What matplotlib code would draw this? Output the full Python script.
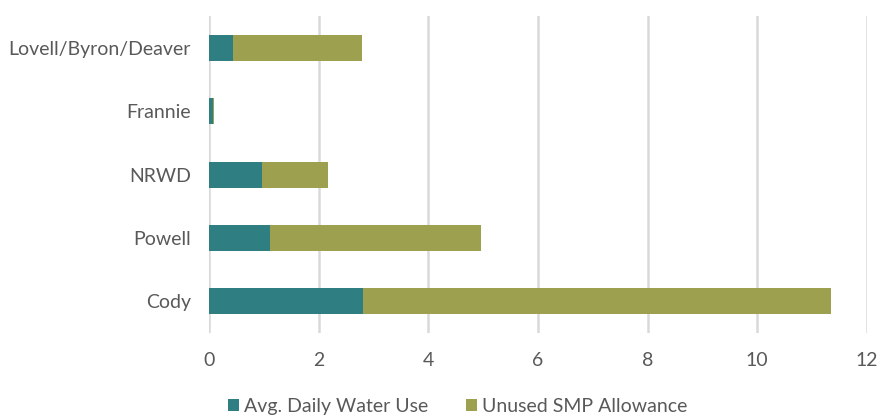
import matplotlib.pyplot as plt

sites = ["Lovell/Byron/Deaver", "Frannie", "NRWD", "Powell", "Cody"]
avg_use = [0.43, 0.07, 0.97, 1.12, 2.81]
unused = [2.37, 0.03, 1.20, 3.85, 8.54]
x_ticks = [0, 2, 4, 6, 8, 10, 12]

TEAL = "#2E7E82"
OLIVE = "#9CA04F"
TEXT = "#595959"

plt.rcParams["font.family"] = ["Lato", "DejaVu Sans"]

fig = plt.figure(figsize=(8.8, 4.18), dpi=100)
ax = fig.add_axes([0.2375, 0.2033, 0.7475, 0.7584])

ypos = list(range(len(sites)))[::-1]
ax.barh(ypos, avg_use, height=0.41, color=TEAL, label="Avg. Daily Water Use", zorder=3)
ax.barh(ypos, unused, left=avg_use, height=0.41, color=OLIVE,
        label="Unused SMP Allowance", zorder=3)

ax.set_xlim(0, 12)
ax.set_ylim(-0.5, len(sites) - 0.5)
ax.set_xticks(x_ticks)
ax.set_yticks(ypos)
ax.set_yticklabels(sites)
ax.tick_params(axis="both", length=0, colors=TEXT, labelsize=14)
ax.tick_params(axis="x", pad=14)
ax.tick_params(axis="y", pad=13)
ax.grid(axis="x", color="#D9D9D9", linewidth=1.8, zorder=0)
for s in ax.spines.values():
    s.set_visible(False)

fig.legend(loc="lower center", bbox_to_anchor=(0.52, -0.035), ncol=2, frameon=False,
           fontsize=14, labelcolor=TEXT, handlelength=0.6, handleheight=0.6,
           handletextpad=0.25, columnspacing=1.9)

fig.savefig("out.png", dpi=100)
